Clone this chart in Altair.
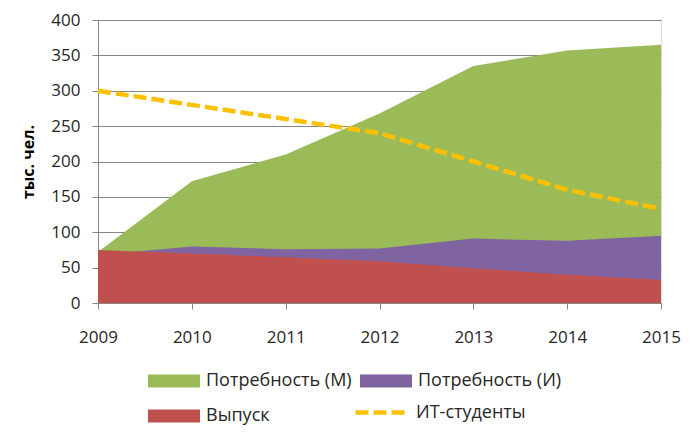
import altair as alt
import pandas as pd

years = [2009, 2010, 2011, 2012, 2013, 2014, 2015]
need_m = [72, 172, 210, 268, 335, 357, 365]
need_i = [68, 80, 76, 77, 91, 88, 95]
vypusk = [75, 70, 64.5, 59, 49, 40, 33]
it_students = [300, 280, 260, 240, 200, 160, 133]

series_names = ["Потребность (М)", "Потребность (И)", "Выпуск"]
series_colors = ["#9BBB59", "#8064A2", "#C0504D"]
line_name = "ИТ-студенты"

rows = []
for name, vals in zip(series_names, [need_m, need_i, vypusk]):
    for y, v in zip(years, vals):
        rows.append({"year": y, "value": v, "series": name})
area_df = pd.DataFrame(rows)
line_df = pd.DataFrame({"year": years, "value": it_students, "series": [line_name] * len(years)})

FONT = "Open Sans"
TXT = "#262626"
TICK_FS = 17
LEG_FS = 18

x = alt.X("year:Q", scale=alt.Scale(domain=[2009, 2015], nice=False, zero=False),
          axis=alt.Axis(values=years, format="d", title=None, grid=False,
                        labelFontSize=TICK_FS, labelColor=TXT, labelFont=FONT,
                        labelPadding=20, tickSize=6, tickColor="#868686",
                        domainColor="#868686", labelFlush=False))
y = alt.Y("value:Q", scale=alt.Scale(domain=[0, 400], nice=False),
          axis=alt.Axis(values=list(range(0, 401, 50)), title="тыс. чел.",
                        titleFontSize=16, titleFont=FONT, titleFontWeight="bold",
                        titleColor="#000000", titlePadding=14,
                        labelFontSize=TICK_FS, labelColor=TXT, labelFont=FONT,
                        labelPadding=12, tickSize=6, tickColor="#868686",
                        domainColor="#868686", gridColor="#868686", gridWidth=1))

color = alt.Color("series:N",
                  scale=alt.Scale(domain=series_names, range=series_colors),
                  legend=alt.Legend(title=None, orient="none", legendX=50, legendY=335,
                                    direction="horizontal", values=series_names,
                                    columns=2, columnPadding=8, rowPadding=-7,
                                    symbolType="M-1,-0.25H1V0.25H-1Z", symbolSize=2704,
                                    symbolStrokeWidth=0, symbolOpacity=1,
                                    labelFontSize=LEG_FS, labelFont=FONT, labelColor=TXT,
                                    labelOffset=6))

layers = []
for name in series_names:
    layers.append(
        alt.Chart(area_df).transform_filter(alt.datum.series == name)
        .mark_area(opacity=1, interpolate="linear")
        .encode(x=x, y=y, color=color)
    )

line = alt.Chart(line_df).mark_line(strokeWidth=4.5, strokeDash=[14, 6]).encode(
    x=x, y=y,
    strokeDash=alt.StrokeDash("series:N",
        scale=alt.Scale(domain=[line_name], range=[[13, 5]]),
        legend=alt.Legend(title=None, orient="none", legendX=255, legendY=364,
                          symbolType="stroke", symbolSize=2704, symbolStrokeWidth=4.5,
                          symbolStrokeColor="#FFC000",
                          labelFontSize=LEG_FS, labelFont=FONT, labelColor=TXT, labelOffset=6)),
    color=alt.value("#FFC000"),
)

chart = alt.layer(*layers, line).properties(
    width=563, height=283,
    autosize=alt.AutoSizeParams(type="none"),
    padding={"left": 90, "top": 12, "right": 21, "bottom": 122},
).configure_view(stroke=None).configure(font=FONT)

chart.save("out.html", embed_options={"renderer": "svg", "actions": False})
